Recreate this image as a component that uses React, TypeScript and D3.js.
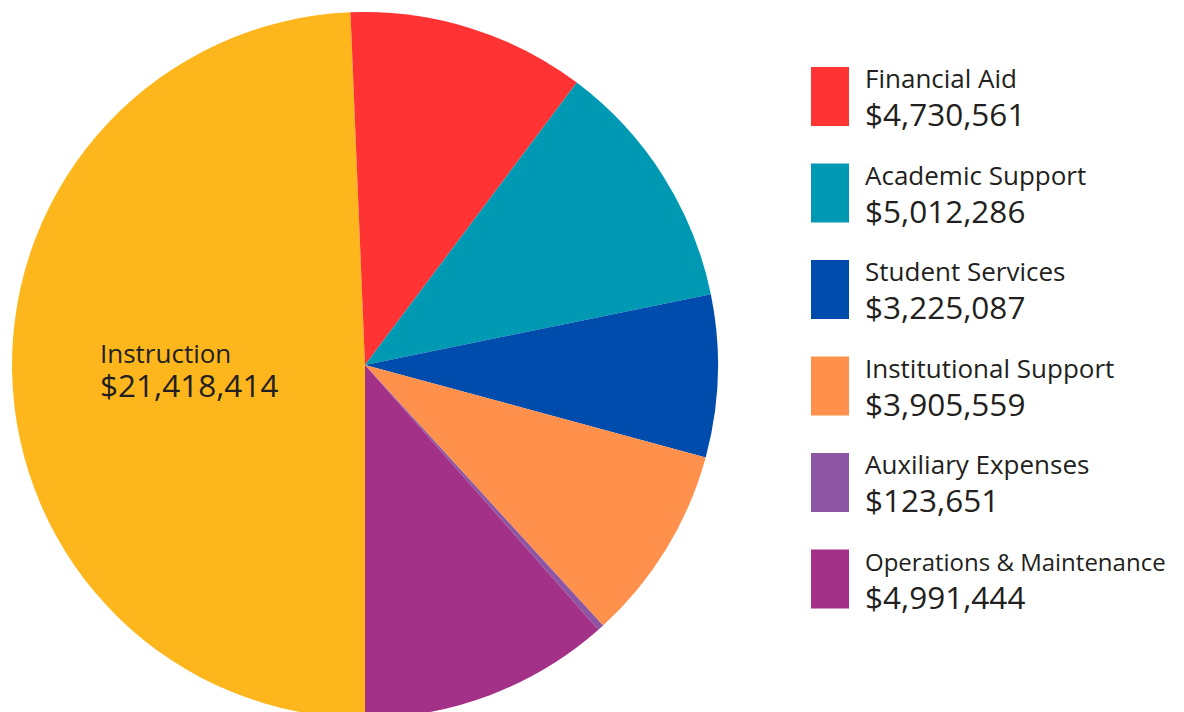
import React from 'react'
import * as d3 from 'd3'

const categories = [
	'Instruction',
	'Financial Aid',
	'Academic Support',
	'Student Services',
	'Institutional Support',
	'Auxiliary Expenses',
	'Operations & Maintenance'
]
const amounts = [21418414, 4730561, 5012286, 3225087, 3905559, 123651, 4991444]
const colors = ['#FDB71C', '#FF3334', '#0099B4', '#004CAD', '#FF914D', '#8C56A4', '#A23187']

const fmt = (v: number) => '$' + d3.format(',')(v)

const App = () => {
	const width = 1184
	const height = 712
	const cx = 365
	const cy = 365
	const radius = 353

	const arcs = d3
		.pie<number>()
		.sort(null)
		.startAngle(Math.PI)
		.endAngle(Math.PI * 3)(amounts)
	const arc = d3.arc<d3.PieArcDatum<number>>().innerRadius(0).outerRadius(radius)

	// legend skips the first slice (labelled in the pie)
	const legendItems = categories.slice(1)
	const legendY = d3.scaleBand<string>().domain(legendItems).range([67, 67 + 96.5 * legendItems.length])
	// long names get shrunk a bit so they fit the page
	const labelSize = (c: string) => (c.length > 22 ? 24 : 26)

	const font = '"Open Sans", "Noto Sans", sans-serif'

	return (
		<svg
			width={width}
			height={height}
			style={{ position: 'fixed', left: 0, top: 0, background: '#fff' }}
		>
			<g transform={`translate(${cx},${cy})`}>
				{arcs.map((a, i) => (
					<path key={i} d={arc(a) || ''} fill={colors[i]} />
				))}
			</g>
			<g fontFamily={font} fill="#231f20">
				<text x={100} y={363} fontSize={26}>
					{categories[0]}
				</text>
				<text x={100} y={397} fontSize={31.5}>
					{fmt(amounts[0])}
				</text>
			</g>
			<g fontFamily={font} fill="#231f20">
				{legendItems.map((c, i) => {
					const y = legendY(c) || 0
					return (
						<g key={c} transform={`translate(811,${y})`}>
							<rect width={38} height={59} fill={colors[i + 1]} />
							<text x={54} y={21} fontSize={labelSize(c)}>
								{c}
							</text>
							<text x={54} y={59} fontSize={31.5}>
								{fmt(amounts[i + 1])}
							</text>
						</g>
					)
				})}
			</g>
		</svg>
	)
}

export default App
